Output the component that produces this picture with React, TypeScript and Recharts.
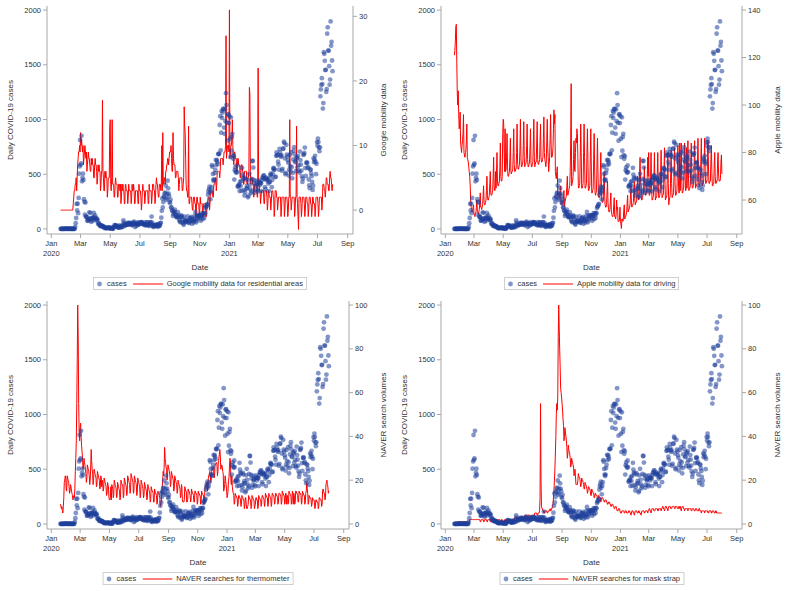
import React from 'react'
import { ComposedChart, Scatter, Line, XAxis, YAxis } from 'recharts'

// ─── data (daily, first value = Mon 20 Jan 2020, one row per week Mon..Sun) ───
const SERIES_START = '2020-01-20'

const casesDaily = [
  1, 0, 0, 0, 1, 0, 1,
  1, 0, 0, 2, 4, 1, 3,
  0, 1, 1, 3, 0, 0, 3,
  1, 0, 0, 0, 0, 1, 0,
  1, 1, 20, 53, 100, 229, 169,
  231, 144, 284, 505, 571, 813, 586,
  599, 851, 435, 467, 505, 448, 272,
  248, 131, 242, 114, 110, 107, 76,
  74, 84, 93, 152, 87, 147, 98,
  64, 76, 100, 104, 91, 146, 105,
  78, 125, 101, 89, 86, 94, 81,
  47, 47, 53, 39, 27, 30, 32,
  25, 27, 27, 22, 22, 18, 8,
  13, 9, 11, 8, 6, 10, 10,
  10, 14, 9, 4, 9, 6, 13,
  8, 3, 2, 4, 12, 18, 34,
  35, 27, 26, 29, 27, 19, 13,
  15, 13, 32, 12, 20, 23, 25,
  16, 19, 40, 79, 58, 39, 27,
  35, 38, 49, 39, 39, 51, 57,
  38, 50, 45, 56, 48, 49, 37,
  34, 43, 59, 49, 67, 48, 17,
  46, 51, 28, 39, 51, 62, 42,
  43, 42, 51, 54, 63, 63, 61,
  48, 44, 50, 45, 35, 44, 62,
  33, 39, 33, 61, 60, 39, 34,
  26, 45, 63, 59, 41, 113, 58,
  25, 28, 18, 36, 31, 36, 30,
  23, 34, 33, 43, 20, 43, 28,
  28, 34, 54, 56, 103, 166, 279,
  197, 246, 297, 288, 324, 332, 397,
  266, 280, 320, 441, 371, 323, 299,
  248, 235, 267, 195, 198, 168, 167,
  119, 136, 156, 155, 176, 136, 121,
  109, 106, 113, 153, 126, 110, 82,
  70, 61, 110, 125, 114, 61, 95,
  50, 38, 113, 77, 63, 75, 64,
  73, 75, 114, 69, 54, 72, 58,
  97, 102, 84, 110, 47, 73, 91,
  76, 58, 91, 121, 155, 77, 61,
  119, 88, 103, 125, 114, 127, 124,
  97, 75, 118, 125, 145, 89, 143,
  126, 100, 146, 143, 191, 205, 208,
  223, 230, 313, 343, 363, 386, 330,
  271, 349, 382, 583, 569, 503, 450,
  438, 451, 511, 540, 629, 583, 631,
  615, 594, 686, 682, 689, 950, 1030,
  718, 880, 1078, 1014, 1064, 1097, 1097,
  926, 869, 1092, 985, 1241, 1132, 970,
  807, 1045, 1050, 967, 1029, 824, 657,
  1020, 715, 840, 869, 674, 641, 665,
  451, 537, 562, 524, 513, 580, 520,
  389, 386, 404, 400, 346, 431, 392,
  437, 349, 559, 497, 469, 458, 355,
  305, 336, 467, 451, 370, 393, 372,
  289, 303, 444, 504, 403, 362, 326,
  343, 457, 621, 621, 561, 448, 416,
  332, 357, 440, 396, 406, 415, 355,
  344, 444, 424, 398, 424, 418, 416,
  346, 446, 470, 465, 488, 490, 459,
  382, 363, 469, 445, 463, 452, 456,
  415, 346, 428, 430, 494, 505, 482,
  382, 447, 506, 551, 557, 543, 543,
  473, 478, 668, 700, 671, 677, 614,
  587, 542, 731, 698, 673, 658, 672,
  532, 549, 731, 735, 797, 785, 644,
  500, 512, 769, 680, 661, 627, 606,
  488, 541, 676, 574, 525, 701, 564,
  463, 511, 635, 715, 747, 681, 610,
  619, 528, 654, 646, 561, 666, 585,
  530, 516, 707, 629, 587, 533, 480,
  430, 459, 677, 681, 695, 744, 556,
  485, 602, 611, 602, 556, 565, 452,
  399, 373, 545, 540, 507, 482, 429,
  357, 395, 645, 610, 634, 668, 614,
  501, 595, 794, 762, 826, 794, 743,
  711, 746, 1212, 1275, 1316, 1378, 1324,
  1100, 1150, 1615, 1600, 1536, 1452, 1454,
  1252, 1278, 1784, 1842, 1630, 1629, 1487,
  1318, 1365, 1896, 1674, 1710, 1539, 1442,
]

const googleResidential = [
  0, 0, 0, 0, 0, 0, 0,
  0, 0, 0, 0, 0, 0, 0,
  0, 0, 0, 0, 0, 0, 0,
  0, 0, 0, 0, 0, 1, 2,
  3, 3, 4, 4, 5, 3, 5,
  7, 8, 9, 9, 10, 9, 12,
  10, 11, 10, 9, 10, 7, 8,
  9, 10, 9, 8, 9, 6, 7,
  8, 9, 8, 8, 7, 6, 6,
  8, 7, 8, 7, 7, 5, 5,
  7, 8, 7, 7, 6, 4, 5,
  7, 6, 7, 6, 6, 3, 4,
  6, 6, 17, 6, 5, 3, 3,
  6, 5, 6, 5, 5, 2, 3,
  5, 5, 5, 13, 14, 4, 3,
  5, 14, 4, 4, 4, 2, 2,
  4, 5, 4, 4, 4, 2, 2,
  4, 4, 4, 3, 4, 1, 2,
  4, 3, 4, 3, 3, 1, 1,
  4, 4, 3, 3, 3, 1, 2,
  4, 3, 3, 3, 3, 1, 2,
  4, 3, 3, 4, 3, 1, 1,
  3, 3, 3, 3, 3, 1, 1,
  4, 3, 3, 3, 2, 0, 1,
  3, 4, 3, 3, 3, 1, 2,
  3, 3, 3, 3, 3, 1, 1,
  4, 3, 3, 3, 3, 1, 2,
  4, 4, 4, 3, 3, 1, 2,
  4, 5, 4, 4, 3, 2, 2,
  4, 4, 4, 3, 4, 10, 3,
  12, 4, 4, 5, 5, 4, 6,
  6, 7, 7, 8, 8, 7, 8,
  9, 9, 9, 10, 8, 6, 6,
  12, 8, 7, 7, 7, 5, 5,
  6, 6, 6, 6, 5, 3, 4,
  5, 5, 5, 5, 5, 3, 3,
  4, 5, 16, 13, 12, 8, 4,
  3, 3, 2, 2, 13, 1, 1,
  2, 2, 2, 2, 1, 0, 0,
  2, 2, 2, 1, 1, -1, 0,
  2, 2, 1, 1, 1, -1, 0,
  2, 1, 1, 1, 1, -1, 0,
  1, 1, 1, 1, 1, -1, -1,
  1, 1, 2, 2, 2, 0, 1,
  3, 3, 3, 3, 3, 2, 2,
  4, 4, 4, 5, 5, 3, 4,
  6, 6, 6, 6, 6, 5, 6,
  8, 8, 8, 8, 8, 7, 8,
  9, 9, 9, 10, 27, 8, 9,
  10, 10, 10, 9, 31, 8, 9,
  10, 10, 11, 14, 10, 8, 7,
  9, 9, 8, 8, 8, 6, 6,
  8, 8, 7, 7, 7, 5, 5,
  7, 7, 7, 6, 6, 4, 4,
  6, 6, 6, 6, 6, 4, 4,
  5, 5, 6, 19, 18, 6, 4,
  5, 5, 5, 4, 4, 2, 3,
  4, 4, 4, 4, 4, 2, 2,
  22, 4, 4, 3, 3, 1, 2,
  3, 3, 3, 3, 3, 1, 1,
  3, 3, 3, 3, 2, 0, 1,
  3, 3, 2, 2, 2, 0, 1,
  3, 3, 3, 2, 2, -1, 0,
  3, 3, 3, 2, 2, 0, 1,
  2, 2, 2, 2, 2, -1, 0,
  2, 2, 2, 2, 2, -1, 0,
  2, 2, 2, 2, 1, -1, 0,
  2, 2, 14, 2, 2, 0, 1,
  2, 2, 2, 2, 2, -1, 0,
  2, 2, 13, 2, 1, -1, -3,
  2, 2, 2, 2, 1, -1, 0,
  2, 2, 2, 2, 1, -1, 0,
  2, 2, 2, 1, 1, -1, 0,
  2, 2, 2, 1, 1, -1, 0,
  2, 2, 1, 1, 1, -1, 0,
  2, 2, 2, 2, 1, -1, 0,
  2, 2, 2, 2, 2, 0, 1,
  4, 4, 4, 3, 3, 2, 3,
  5, 5, 4, 4, 4, 3, 3,
  5, 6, 5, 5, 4, 3, 4,
]

const appleDriving = [
  121, 123, 127, 133, 134, 118, 105,
  100, 106, 96, 90, 92, 97, 84,
  82, 80, 83, 85, 88, 96, 80,
  79, 78, 80, 81, 85, 92, 78,
  77, 76, 74, 72, 70, 66, 60,
  57, 56, 55, 55, 57, 58, 54,
  54, 53, 54, 55, 57, 60, 55,
  55, 54, 55, 56, 59, 63, 57,
  57, 56, 57, 58, 62, 66, 59,
  58, 58, 59, 60, 64, 70, 62,
  60, 60, 61, 62, 67, 72, 63,
  62, 62, 63, 64, 70, 78, 66,
  64, 64, 72, 65, 71, 80, 68,
  66, 66, 67, 68, 74, 84, 70,
  68, 68, 70, 88, 94, 92, 80,
  72, 90, 72, 73, 78, 88, 74,
  70, 70, 71, 72, 78, 86, 72,
  71, 72, 72, 73, 80, 90, 75,
  72, 72, 73, 73, 80, 92, 76,
  73, 73, 74, 75, 82, 94, 78,
  74, 74, 75, 76, 83, 93, 78,
  74, 75, 75, 76, 83, 92, 77,
  74, 74, 75, 76, 82, 90, 76,
  74, 74, 75, 76, 84, 94, 78,
  74, 75, 76, 76, 84, 93, 77,
  75, 75, 76, 77, 85, 92, 78,
  76, 76, 77, 78, 86, 95, 80,
  77, 76, 74, 76, 85, 94, 82,
  78, 72, 75, 78, 86, 96, 84,
  78, 78, 79, 82, 90, 98, 92,
  96, 72, 70, 69, 72, 74, 62,
  63, 62, 61, 61, 64, 66, 58,
  58, 58, 58, 59, 62, 64, 57,
  59, 60, 61, 62, 66, 70, 62,
  63, 64, 65, 66, 72, 84, 109,
  66, 67, 68, 70, 77, 85, 73,
  72, 80, 86, 84, 90, 88, 78,
  66, 65, 66, 67, 78, 92, 80,
  65, 65, 66, 67, 80, 92, 78,
  65, 65, 66, 67, 80, 90, 77,
  64, 64, 65, 66, 78, 90, 76,
  63, 63, 64, 65, 77, 88, 74,
  63, 62, 63, 64, 76, 86, 72,
  62, 61, 61, 62, 72, 80, 68,
  60, 59, 59, 60, 67, 72, 62,
  58, 57, 57, 58, 64, 68, 59,
  56, 55, 55, 56, 60, 63, 55,
  54, 53, 53, 54, 58, 61, 53,
  53, 52, 54, 60, 56, 57, 51,
  51, 51, 52, 57, 51, 50, 48,
  52, 52, 51, 52, 56, 58, 52,
  53, 53, 54, 55, 59, 62, 55,
  56, 56, 57, 58, 62, 66, 58,
  57, 58, 58, 59, 64, 68, 60,
  58, 59, 59, 60, 65, 70, 62,
  60, 61, 72, 78, 68, 66, 60,
  60, 61, 62, 63, 68, 74, 64,
  62, 62, 63, 64, 70, 78, 70,
  80, 62, 62, 63, 70, 80, 66,
  60, 60, 61, 62, 70, 80, 66,
  60, 61, 61, 62, 71, 80, 67,
  61, 61, 62, 63, 72, 81, 67,
  61, 62, 62, 63, 72, 82, 68,
  60, 61, 61, 62, 71, 80, 67,
  58, 60, 61, 62, 71, 81, 67,
  61, 62, 62, 63, 72, 82, 68,
  62, 62, 63, 64, 73, 83, 69,
  63, 63, 84, 64, 73, 84, 70,
  63, 63, 64, 65, 74, 84, 70,
  64, 64, 82, 65, 74, 85, 71,
  64, 65, 65, 66, 75, 84, 71,
  65, 65, 66, 66, 76, 85, 72,
  65, 66, 66, 67, 76, 86, 72,
  66, 66, 67, 68, 77, 86, 72,
  66, 67, 67, 68, 77, 86, 73,
  67, 67, 68, 68, 78, 85, 73,
  67, 67, 68, 68, 77, 83, 72,
  66, 66, 67, 67, 75, 80, 70,
  67, 67, 68, 68, 76, 80, 71,
  68, 68, 68, 69, 76, 79, 71,
]

const naverThermometer = [
  9, 8, 7, 8, 6, 5, 8,
  12, 19, 20, 22, 21, 16, 15,
  22, 21, 20, 19, 17, 14, 15,
  18, 17, 15, 14, 13, 11, 12,
  13, 12, 16, 24, 30, 38, 55,
  75, 100, 85, 55, 42, 38, 44,
  46, 40, 36, 33, 30, 25, 26,
  30, 28, 27, 25, 23, 19, 21,
  27, 26, 25, 24, 22, 18, 20,
  26, 34, 29, 25, 23, 18, 20,
  25, 24, 23, 22, 21, 17, 18,
  24, 23, 22, 21, 20, 16, 17,
  22, 21, 17, 20, 19, 15, 16,
  21, 20, 19, 18, 17, 13, 14,
  19, 18, 17, 12, 11, 11, 12,
  17, 11, 18, 17, 16, 12, 13,
  20, 19, 18, 17, 16, 12, 13,
  19, 18, 17, 16, 15, 11, 12,
  20, 19, 18, 18, 17, 12, 13,
  21, 20, 19, 18, 17, 13, 14,
  22, 21, 20, 19, 18, 14, 15,
  23, 22, 21, 20, 19, 14, 15,
  22, 21, 20, 19, 18, 13, 14,
  21, 20, 19, 18, 17, 12, 13,
  20, 19, 18, 17, 16, 12, 13,
  19, 18, 17, 16, 15, 11, 12,
  18, 17, 16, 15, 14, 10, 11,
  17, 16, 15, 15, 14, 10, 10,
  16, 15, 14, 14, 13, 9, 10,
  15, 14, 14, 13, 12, 8, 9,
  10, 14, 17, 20, 24, 22, 26,
  35, 30, 28, 26, 25, 20, 22,
  27, 26, 25, 24, 22, 17, 18,
  24, 23, 22, 21, 20, 15, 16,
  22, 21, 20, 19, 18, 14, 15,
  20, 19, 18, 17, 16, 12, 13,
  18, 17, 11, 10, 10, 10, 11,
  17, 16, 15, 15, 10, 10, 11,
  16, 15, 15, 14, 13, 10, 11,
  16, 15, 14, 14, 13, 10, 10,
  15, 15, 14, 14, 13, 9, 10,
  15, 14, 14, 13, 13, 9, 10,
  15, 14, 14, 13, 13, 9, 10,
  17, 17, 18, 18, 19, 15, 16,
  21, 22, 23, 24, 23, 19, 20,
  24, 25, 25, 26, 25, 21, 22,
  27, 27, 28, 28, 27, 22, 24,
  29, 30, 32, 34, 31, 25, 26,
  27, 26, 24, 23, 15, 16, 18,
  22, 20, 18, 16, 12, 13, 15,
  20, 21, 26, 30, 29, 20, 18,
  22, 17, 15, 14, 13, 9, 10,
  14, 13, 13, 12, 12, 8, 9,
  13, 13, 12, 12, 11, 8, 9,
  13, 12, 12, 11, 11, 7, 8,
  12, 12, 9, 7, 7, 8, 9,
  13, 12, 12, 11, 11, 7, 8,
  13, 12, 12, 11, 11, 7, 8,
  9, 12, 12, 11, 11, 7, 8,
  13, 12, 12, 11, 11, 8, 9,
  13, 13, 12, 12, 11, 8, 9,
  14, 13, 13, 12, 12, 8, 9,
  14, 13, 13, 12, 12, 8, 9,
  14, 14, 13, 13, 12, 9, 10,
  14, 14, 13, 13, 12, 9, 10,
  14, 14, 14, 13, 13, 9, 10,
  15, 14, 14, 13, 13, 9, 10,
  14, 14, 9, 13, 13, 9, 10,
  15, 14, 14, 13, 13, 9, 10,
  15, 14, 9, 14, 13, 9, 10,
  15, 15, 14, 14, 13, 10, 10,
  15, 14, 14, 14, 13, 9, 10,
  15, 14, 14, 13, 13, 9, 10,
  14, 15, 19, 16, 14, 9, 10,
  13, 12, 12, 12, 11, 8, 9,
  12, 11, 11, 11, 10, 7, 8,
  11, 11, 10, 10, 10, 7, 8,
  12, 12, 11, 11, 11, 8, 9,
  15, 16, 15, 14, 14, 11, 12,
  18, 19, 20, 18, 17, 14, 15,
]

const naverMaskStrap = [
  0, 0, 0, 0, 0, 0, 0,
  1, 1, 1, 1, 1, 1, 1,
  1, 1, 1, 1, 1, 1, 1,
  1, 1, 1, 1, 1, 1, 1,
  1, 1, 1, 1, 2, 2, 2,
  2, 2, 2, 2, 2, 2, 2,
  2, 2, 2, 2, 2, 2, 2,
  2, 2, 2, 2, 2, 1, 1,
  2, 2, 2, 2, 2, 1, 1,
  2, 2, 2, 2, 2, 1, 1,
  2, 2, 2, 2, 2, 1, 1,
  2, 2, 2, 2, 2, 1, 1,
  2, 2, 1, 2, 2, 1, 1,
  2, 2, 2, 2, 2, 1, 1,
  2, 2, 2, 1, 1, 1, 1,
  2, 1, 2, 2, 2, 1, 1,
  2, 2, 2, 2, 2, 2, 2,
  2, 2, 2, 2, 2, 2, 2,
  3, 3, 3, 3, 3, 2, 2,
  3, 3, 3, 3, 3, 2, 2,
  3, 3, 3, 3, 3, 3, 3,
  4, 4, 4, 4, 4, 3, 3,
  4, 4, 4, 4, 4, 3, 3,
  4, 4, 4, 4, 4, 4, 4,
  5, 5, 5, 5, 5, 4, 4,
  5, 5, 5, 6, 12, 55, 20,
  8, 7, 7, 6, 6, 5, 5,
  6, 6, 6, 6, 6, 5, 5,
  6, 6, 6, 6, 7, 6, 6,
  7, 7, 8, 9, 12, 15, 20,
  25, 32, 40, 50, 55, 52, 58,
  85, 100, 90, 80, 72, 62, 60,
  58, 55, 52, 48, 45, 38, 40,
  44, 42, 40, 38, 35, 30, 32,
  36, 34, 33, 32, 30, 26, 27,
  30, 29, 28, 27, 26, 22, 23,
  25, 22, 18, 18, 18, 18, 20,
  23, 22, 21, 21, 19, 17, 18,
  21, 20, 20, 19, 18, 16, 16,
  19, 18, 18, 17, 16, 14, 15,
  17, 17, 16, 16, 15, 13, 13,
  16, 15, 15, 14, 14, 12, 12,
  14, 14, 13, 13, 13, 11, 11,
  13, 13, 12, 12, 12, 10, 11,
  12, 12, 12, 11, 11, 10, 10,
  11, 11, 11, 10, 10, 9, 9,
  10, 10, 10, 9, 9, 8, 8,
  9, 9, 9, 8, 8, 7, 7,
  8, 8, 8, 7, 6, 6, 6,
  7, 7, 7, 6, 5, 5, 5,
  6, 6, 6, 6, 6, 5, 5,
  6, 6, 6, 5, 5, 5, 5,
  6, 6, 6, 5, 5, 4, 5,
  6, 6, 6, 5, 5, 4, 5,
  6, 6, 6, 6, 5, 5, 5,
  6, 6, 5, 5, 5, 4, 5,
  6, 6, 6, 6, 6, 5, 5,
  6, 6, 6, 6, 6, 5, 6,
  6, 7, 7, 6, 6, 5, 6,
  7, 7, 7, 7, 6, 6, 6,
  7, 7, 7, 7, 7, 6, 6,
  7, 7, 7, 7, 7, 6, 7,
  7, 8, 8, 7, 7, 6, 7,
  8, 8, 8, 7, 7, 6, 7,
  8, 8, 8, 8, 7, 7, 7,
  8, 8, 8, 8, 8, 7, 7,
  8, 8, 8, 8, 7, 7, 7,
  8, 8, 7, 8, 7, 6, 7,
  8, 8, 8, 7, 7, 6, 7,
  7, 7, 7, 7, 7, 6, 7,
  7, 7, 7, 7, 7, 6, 6,
  7, 7, 7, 7, 6, 6, 6,
  7, 7, 7, 6, 6, 6, 6,
  7, 7, 6, 6, 6, 5, 6,
  6, 6, 6, 6, 6, 5, 6,
  6, 6, 6, 6, 6, 5, 5,
  6, 6, 6, 6, 6, 5, 5,
  6, 6, 6, 6, 5, 5, 5,
  6, 6, 5, 5, 5, 5, 5,
  5, 5, 5, 5, 5, 5, 5,
]

// x-axis ticks (every other month)
const tickDates = [
  '2020-01-01', '2020-03-01', '2020-05-01', '2020-07-01', '2020-09-01', '2020-11-01',
  '2021-01-01', '2021-03-01', '2021-05-01', '2021-07-01', '2021-09-01',
]
const tickMonths = ['Jan', 'Mar', 'May', 'Jul', 'Sep', 'Nov', 'Jan', 'Mar', 'May', 'Jul', 'Sep']
const tickYears = ['2020', '', '', '', '', '', '2021', '', '', '', '']

const casesTicks = [0, 500, 1000, 1500, 2000]
const googleTicks = [0, 10, 20, 30]
const appleTicks = [60, 80, 100, 120, 140]
const naverTicks = [0, 20, 40, 60, 80, 100]

// ─── helpers ───────────────────────────────────────────────────────────────
const DAY_MS = 86400000
const ORIGIN = Date.parse('2020-01-01')
const dayOf = (iso: string) => Math.round((Date.parse(iso) - ORIGIN) / DAY_MS)
const startDay = dayOf(SERIES_START)
const tickDays = tickDates.map(dayOf)

const toPoints = (values: number[]) => values.map((v, i) => ({ day: startDay + i, value: v }))
const caseData = toPoints(casesDaily)

const FONT = '"Liberation Sans", Arial, sans-serif'
const TEXT = '#333333'
const AXIS = '#a8a8a8'
const DOT = '#1f3f9a'
const RED = '#ff0000'

const X_DOMAIN = [-9, 620]
const CASES_DOMAIN = [-46, 2037]
const W = 394
const H = 295
const PLOT_LEFT = 47
const X_AXIS_H = 61

const DateTick = (props: any) => {
  const { x, y, payload } = props
  const i = tickDays.indexOf(payload.value)
  return (
    <text x={x} y={y} textAnchor="middle" fill={TEXT} fontSize={7.5}>
      <tspan x={x} dy={5.5}>{tickMonths[i]}</tspan>
      {tickYears[i] ? <tspan x={x} dy={10}>{tickYears[i]}</tspan> : null}
    </text>
  )
}

const CaseDot = (p: any) => (
  <circle cx={p.cx} cy={p.cy} r={2.4} fill={DOT} fillOpacity={0.55} />
)

function LegendBox({ label, centerX }: { label: string; centerX: number }) {
  return (
    <div
      style={{
        position: 'absolute', top: 277, left: centerX, transform: 'translateX(-50%)',
        height: 11, border: '1px solid #d0d0d0', display: 'flex', alignItems: 'center',
        padding: '0 3px 0 2px', fontSize: 7.5, lineHeight: '11px', color: TEXT, whiteSpace: 'nowrap',
      }}
    >
      <svg width={7} height={8}><circle cx={3.5} cy={4} r={2.4} fill={DOT} fillOpacity={0.55} /></svg>
      <span style={{ marginLeft: 4 }}>cases</span>
      <svg width={30} height={8} style={{ marginLeft: 6 }}><line x1={0} y1={4} x2={30} y2={4} stroke={RED} /></svg>
      <span style={{ marginLeft: 4 }}>{label}</span>
    </div>
  )
}

interface PanelProps {
  left: number
  top: number
  rightWidth: number
  rightTitle: string
  legendLabel: string
  values: number[]
  rightDomain: number[]
  rightTicks: number[]
}

function Panel({ left, top, rightWidth, rightTitle, legendLabel, values, rightDomain, rightTicks }: PanelProps) {
  const plotRight = W - rightWidth
  const lineData = toPoints(values)
  return (
    <div style={{ position: 'absolute', left, top, width: W, height: H }}>
      <ComposedChart width={W} height={H} margin={{ top: 6, right: 0, bottom: 0, left: 0 }}>
        <XAxis
          dataKey="day"
          type="number"
          domain={X_DOMAIN}
          allowDataOverflow
          ticks={tickDays}
          interval={0}
          height={X_AXIS_H}
          tickSize={4}
          stroke={AXIS}
          tick={<DateTick />}
          label={{
            value: 'Date',
            content: ({ viewBox }: any) => (
              <text x={viewBox.x + viewBox.width / 2} y={viewBox.y + 36} textAnchor="middle" fill={TEXT} fontSize={8}>
                Date
              </text>
            ),
          }}
        />
        <XAxis xAxisId="top" orientation="top" type="number" domain={X_DOMAIN} allowDataOverflow height={0} tick={false} tickLine={false} stroke={AXIS} />
        <YAxis
          yAxisId="left"
          domain={CASES_DOMAIN}
          allowDataOverflow
          ticks={casesTicks}
          interval={0}
          width={PLOT_LEFT}
          tickSize={4}
          stroke={AXIS}
          tick={{ fill: TEXT, fontSize: 7.5 }}
          label={{
            value: 'Daily COVID-19 cases',
            content: ({ viewBox }: any) => {
              const cy = viewBox.y + viewBox.height / 2
              return (
                <text x={13} y={cy} transform={`rotate(-90 13 ${cy})`} textAnchor="middle" fill={TEXT} fontSize={8}>
                  Daily COVID-19 cases
                </text>
              )
            },
          }}
        />
        <YAxis
          yAxisId="right"
          orientation="right"
          domain={rightDomain}
          allowDataOverflow
          ticks={rightTicks}
          interval={0}
          width={rightWidth}
          tickSize={4}
          stroke={AXIS}
          tick={{ fill: TEXT, fontSize: 7.5 }}
          label={{
            value: rightTitle,
            content: ({ viewBox }: any) => {
              const cy = viewBox.y + viewBox.height / 2
              const tx = W - 8
              return (
                <text x={tx} y={cy} transform={`rotate(-90 ${tx} ${cy})`} textAnchor="middle" fill={TEXT} fontSize={8}>
                  {rightTitle}
                </text>
              )
            },
          }}
        />
        <Scatter data={caseData} dataKey="value" yAxisId="left" shape={CaseDot} isAnimationActive={false} />
        <Line
          data={lineData}
          dataKey="value"
          yAxisId="right"
          type="linear"
          stroke={RED}
          strokeWidth={1}
          dot={false}
          activeDot={false}
          isAnimationActive={false}
        />
      </ComposedChart>
      <LegendBox label={legendLabel} centerX={(PLOT_LEFT + plotRight) / 2} />
    </div>
  )
}

export default function App() {
  return (
    <div style={{ position: 'absolute', left: 0, top: 0, width: 787, height: 591, background: '#fff', fontFamily: FONT }}>
      <Panel
        left={0}
        top={0}
        rightWidth={41}
        rightTitle="Google mobility data"
        legendLabel="Google mobility data for residential areas"
        values={googleResidential}
        rightDomain={[-3.7, 31.6]}
        rightTicks={googleTicks}
      />
      <Panel
        left={394}
        top={0}
        rightWidth={46}
        rightTitle="Apple mobility data"
        legendLabel="Apple mobility data for driving"
        values={appleDriving}
        rightDomain={[45.7, 141.7]}
        rightTicks={appleTicks}
      />
      <Panel
        left={0}
        top={295}
        rightWidth={45}
        rightTitle="NAVER search volumes"
        legendLabel="NAVER searches for thermometer"
        values={naverThermometer}
        rightDomain={[-2.3, 101.85]}
        rightTicks={naverTicks}
      />
      <Panel
        left={394}
        top={295}
        rightWidth={46}
        rightTitle="NAVER search volumes"
        legendLabel="NAVER searches for mask strap"
        values={naverMaskStrap}
        rightDomain={[-2.3, 101.85]}
        rightTicks={naverTicks}
      />
    </div>
  )
}
